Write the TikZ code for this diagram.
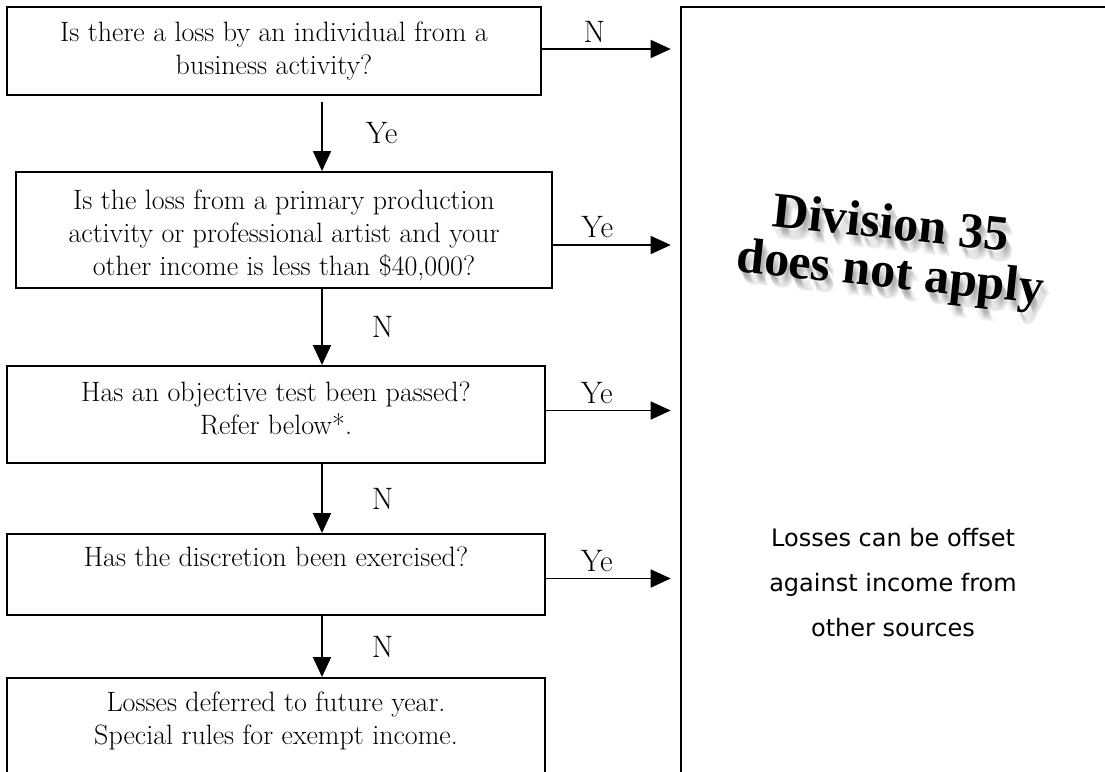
\documentclass[tikz,border=0pt]{standalone}
\usepackage{fontspec}
\newfontfamily\sansfont{DejaVu Sans}
\newfontfamily\artfont{Liberation Serif}
\usetikzlibrary{arrows.meta}

\tikzset{
    qbox/.style={draw, line width=1.9pt, inner sep=0pt},
    qtext/.style={align=center, inner sep=0pt, font=\fontsize{28}{33}\selectfont},
    ans/.style={inner sep=0pt, font=\fontsize{31}{33}\selectfont},
    go/.style={line width=1.7pt, -{Triangle[length=20pt,width=18pt]}},
    art/.style={inner sep=0pt, rotate=-6, font=\artfont\bfseries\fontsize{50}{50}\selectfont}
}

\begin{document}
\begin{tikzpicture}[x=1pt, y=-1pt]
    \useasboundingbox (0,0) rectangle (1105,771);
    \clip (0,0) rectangle (1105,771);

    % Outcome box on the right (runs off the page)
    \node[qbox, line width=2.6pt, minimum width=440pt, minimum height=800pt] (res) at (901,407) {};

    % Question boxes
    \node[qbox, minimum width=534pt, minimum height=88pt] (q1) at (274,51) {};
    \node[qtext] (t1) at (274,51) {Is there a loss by an individual from a\\ business activity?};

    \node[qbox, minimum width=536pt, minimum height=116pt] (q2) at (284,230) {};
    \node[qtext] (t2) at (284,235) {Is the loss from a primary production\\ activity or professional artist and your\\ other income is less than \$40,000?};

    \node[qbox, minimum width=538pt, minimum height=97pt] (q3) at (276,414.5) {};
    \node[qtext] (t3) at (276,408) {Has an objective test been passed?\\ Refer below*.};

    \node[qbox, minimum width=538pt, minimum height=81pt] (q4) at (276,574.5) {};
    \node[qtext] (t4) at (276,557) {Has the discretion been exercised?};

    \node[qbox, minimum width=538pt, minimum height=140pt] (q5) at (276,748) {};
    \node[qtext] (t5) at (276,721) {Losses deferred to future year.\\ Special rules for exempt income.};

    % Down the left column
    \coordinate (spine) at (322,0);
    \draw[go, shorten <=6pt] (q1.south -| spine) -- (q2.north -| spine) node[ans, midway, right=43pt] (a1) {Ye};
    \draw[go] (q2.south -| spine) -- (q3.north -| spine) node[ans, midway, right=49pt] (a2) {N};
    \draw[go] (q3.south -| spine) -- (q4.north -| spine) node[ans, midway, right=49pt] (a3) {N};
    \draw[go] (q4.south -| spine) -- (q5.north -| spine) node[ans, midway, right=49pt] (a4) {N};

    % Across to the outcome
    \draw[go, shorten >=9pt] ([yshift=2pt]q1.east) -- ([yshift=2pt]q1.east -| res.west) node[ans, pos=0.38, above=6pt] (b1) {N};
    \draw[go, shorten >=9pt] ([yshift=-15pt]q2.east) -- ([yshift=-15pt]q2.east -| res.west) node[ans, pos=0.35, above=6pt] (b2) {Ye};
    \draw[go, shorten >=9pt] ([yshift=4pt]q3.east) -- ([yshift=4pt]q3.east -| res.west) node[ans, pos=0.38, above=6pt] (b3) {Ye};
    \draw[go, shorten >=9pt] ([yshift=-4pt]q4.east) -- ([yshift=-4pt]q4.east -| res.west) node[ans, pos=0.38, above=6pt] (b4) {Ye};

    % WordArt heading with a soft shadow
    \foreach \d in {12,10,8,6,4} {
        \node[art, text=black, opacity=0.07] (divs\d) at (891+0.5*\d,222+\d) {Division 35};
        \node[art, text=black, opacity=0.07] (dnas\d) at (890+0.5*\d,276+\d) {does not apply};
    }
    \node[art] (div) at (891,222) {Division 35};
    \node[art] (dna) at (890,276) {does not apply};

    \node[align=center, inner sep=0pt, font=\sansfont\fontsize{24}{45}\selectfont] (off) at (893,583) {Losses can be offset\\ against income from\\ other sources};
\end{tikzpicture}
\end{document}
